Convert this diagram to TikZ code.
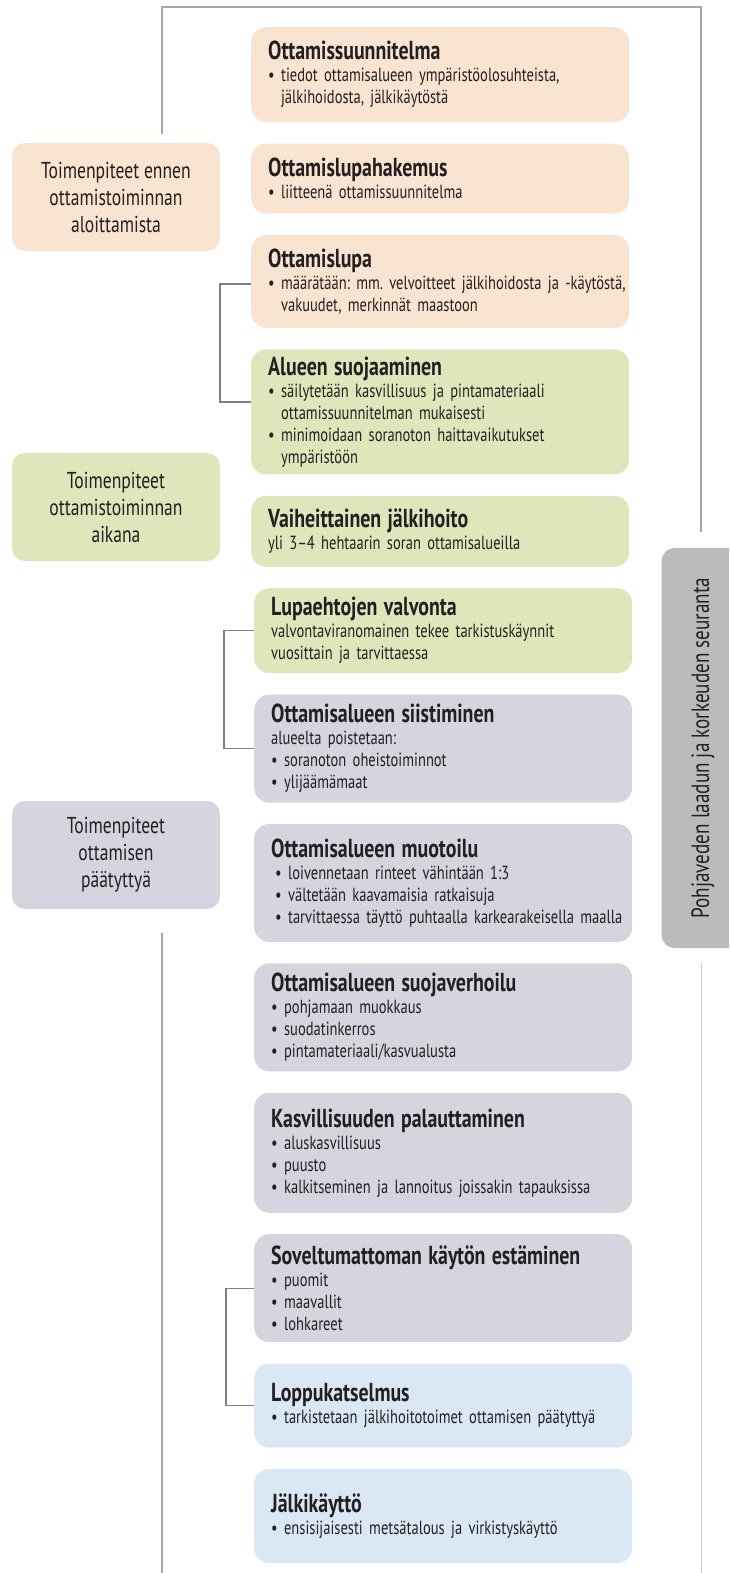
\documentclass[tikz,border=0pt]{standalone}
\usepackage{fontspec}
\setmainfont{PT Sans}[FakeStretch=0.765]
\usetikzlibrary{positioning}
\definecolor{peach}{RGB}{248,228,209}
\definecolor{leaf}{RGB}{223,230,187}
\definecolor{slate}{RGB}{213,213,224}
\definecolor{sky}{RGB}{218,232,245}
\definecolor{gwgray}{RGB}{187,187,187}
\definecolor{ink}{RGB}{35,31,32}
\newcommand{\bul}{\textbullet\ }
\newcommand{\bulind}{\phantom{\textbullet\ }}
\newcommand{\ttl}[1]{{\fontsize{26}{25}\selectfont\bfseries #1}\\[0pt]}
\frenchspacing

\begin{document}
\begin{tikzpicture}[x=1pt,y=-1pt]
        \tikzset{phase/.style={rectangle, rounded corners=13pt, align=center, text=ink,
            minimum width=208pt, minimum height=108pt, font=\fontsize{23}{27}\selectfont},
        task/.style={rectangle, rounded corners=15pt, align=left, text=ink, text width=344pt,
            inner xsep=17pt, inner ysep=0pt, font=\fontsize{19}{22}\selectfont,
            execute at begin node={\hfuzz=40pt}},
        gwbox/.style={rectangle, rounded corners=13pt, rotate=90, fill=gwgray, text=ink,
            minimum width=400pt, minimum height=83pt, font=\fontsize{25}{30}\selectfont},
        frame/.style={draw=black!35, line width=1.5pt},
        rframe/.style={draw=black!20, line width=1pt},
        link/.style={draw=black!50, line width=1.2pt}
        }
        \clip (0,0) rectangle (729,1573);
        % phases on the left
        \node [phase, fill=peach] (pre) at (116,197) {Toimenpiteet ennen\\ottamistoiminnan\\aloittamista};
        \node [phase, fill=leaf] (during) at (116,507) {Toimenpiteet\\ottamistoiminnan\\aikana};
        \node [phase, fill=slate] (after) at (116,855) {Toimenpiteet\\ottamisen\\päätyttyä};
        % tasks
        \node [task, fill=peach, minimum height=95pt, anchor=north west] (plan) at (251,27)
            {\ttl{Ottamissuunnitelma}\bul tiedot ottamisalueen ympäristöolosuhteista,\\\bulind jälkihoidosta, jälkikäytöstä};
        \node [task, fill=peach, minimum height=70pt, below=21pt of plan] (appl)
            {\ttl{Ottamislupahakemus}\bul liitteenä ottamissuunnitelma};
        \node [task, fill=peach, minimum height=93pt, below=21pt of appl] (permit)
            {\ttl{Ottamislupa}\mbox{\bul määrätään: mm. velvoitteet jälkihoidosta ja -käytöstä,}\\\bulind vakuudet, merkinnät maastoon};
        \node [task, fill=leaf, minimum height=125pt, below=21pt of permit] (protect)
            {\ttl{Alueen suojaaminen}\bul säilytetään kasvillisuus ja pintamateriaali\\\bulind ottamissuunnitelman mukaisesti\\\bul minimoidaan soranoton haittavaikutukset\\\bulind ympäristöön};
        \node [task, fill=leaf, minimum height=71pt, below=21pt of protect] (stepwise)
            {\ttl{Vaiheittainen jälkihoito}yli 3–4 hehtaarin soran ottamisalueilla};
        \node [task, fill=leaf, minimum height=85pt, below=21pt of stepwise, xshift=3pt] (control)
            {\ttl{Lupaehtojen valvonta}valvontaviranomainen tekee tarkistuskäynnit\\vuosittain ja tarvittaessa};
        \node [task, fill=slate, minimum height=108pt, below=21pt of control] (cleanup)
            {\ttl{Ottamisalueen siistiminen}alueelta poistetaan:\\\bul soranoton oheistoiminnot\\\bul ylijäämämaat};
        \node [task, fill=slate, minimum height=118pt, below=21pt of cleanup] (shaping)
            {\ttl{Ottamisalueen muotoilu}\hspace*{4pt}\bul loivennetaan rinteet vähintään 1:3\\\hspace*{4pt}\bul vältetään kaavamaisia ratkaisuja\\\mbox{\hspace*{4pt}\bul tarvittaessa täyttö puhtaalla karkearakeisella maalla}};
        \node [task, fill=slate, minimum height=108pt, below=21pt of shaping] (cover)
            {\ttl{Ottamisalueen suojaverhoilu}\bul pohjamaan muokkaus\\\bul suodatinkerros\\\bul pintamateriaali/kasvualusta};
        \node [task, fill=slate, minimum height=120pt, below=21pt of cover] (vegetation)
            {\ttl{Kasvillisuuden palauttaminen}\bul aluskasvillisuus\\\bul puusto\\\bul kalkitseminen ja lannoitus joissakin tapauksissa};
        \node [task, fill=slate, minimum height=108pt, below=21pt of vegetation] (block)
            {\ttl{Soveltumattoman käytön estäminen}\bul puomit\\\bul maavallit\\\bul lohkareet};
        \node [task, fill=sky, minimum height=84pt, below=21pt of block] (final)
            {\ttl{Loppukatselmus}\bul tarkistetaan jälkihoitotoimet ottamisen päätyttyä};
        \node [task, fill=sky, minimum height=94pt, below=21pt of final] (afteruse)
            {\ttl{Jälkikäyttö}\bul ensisijaisesti metsätalous ja virkistyskäyttö};
        % groundwater monitoring
        \node [gwbox] (monitor) at (703,748) {Pohjaveden laadun ja korkeuden seuranta};
        \coordinate (ltop) at (162,134);
        \coordinate (corner) at (162,7);
        \coordinate (rtop) at (701,532);
        \coordinate (lbot) at (162,933);
        \coordinate (lend) at (162,1573);
        \coordinate (rbot) at (701,963);
        \coordinate (rend) at (701,1573);
%% paths
        \path[frame] (ltop) -- (corner) -| (rtop);
        \path[frame] (lbot) -- (lend);
        \path[rframe] (rbot) -- (rend);
        \path[link] ([yshift=-2.5pt]permit.west) -- ++(-31,0) |- ([yshift=10pt]protect.west);
        \path[link] (control.west) -- ++(-30,0) |- (cleanup.west);
        \path[link] (block.west) -- ++(-28,0) |- (final.west);
\end{tikzpicture}
\end{document}
